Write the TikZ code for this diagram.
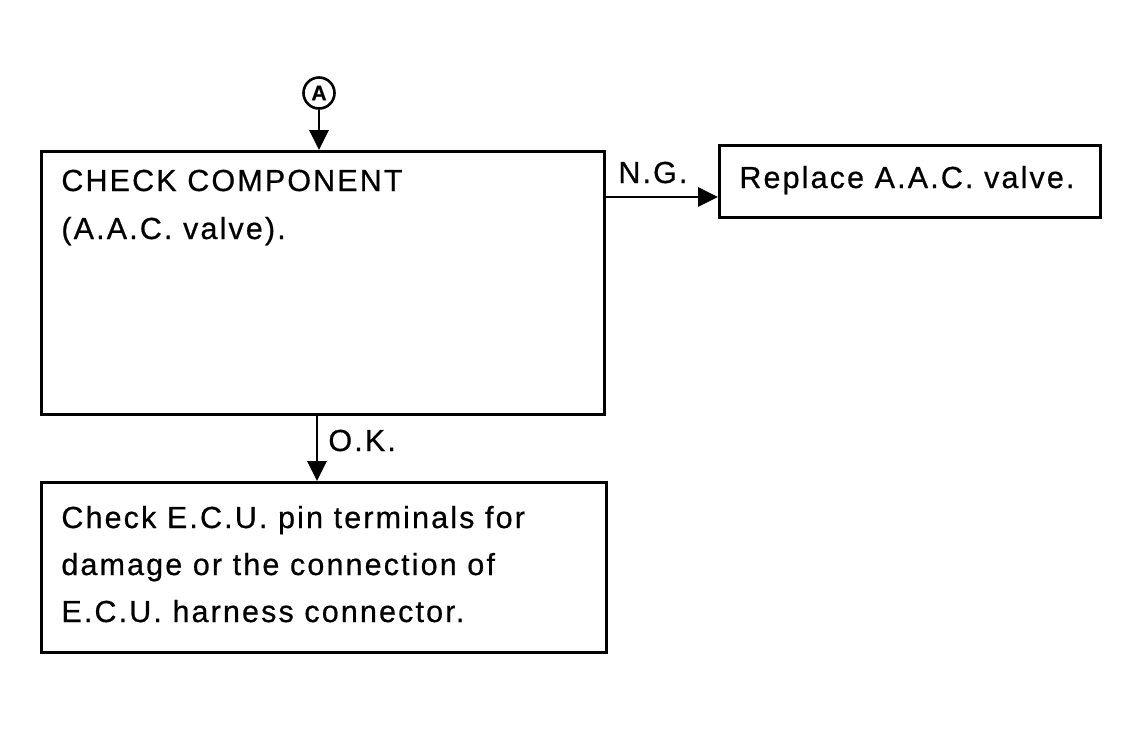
\documentclass[tikz,border=0pt]{standalone}
\usepackage{fontspec}
\setmainfont{Liberation Sans}[LetterSpace=7,FakeBold=0.6]
\usetikzlibrary{arrows.meta,calc}
\begin{document}
\begin{tikzpicture}[x=1pt,y=-1pt,
  line width=2.8pt,
  box/.style={draw,rectangle,inner sep=0pt,anchor=north west},
  txt/.style={anchor=base west,inner sep=0pt,font=\fontsize{30.5}{48}\selectfont},
  arr/.style={-{Triangle[length=20pt,width=19pt]}}]
\useasboundingbox (0,0) rectangle (1137,729);
% circle A
\node[draw,circle,minimum size=31pt,inner sep=0pt,line width=2.6pt,font=\bfseries\fontsize{21}{21}\selectfont] (A) at (319,93) {A};
% main box
\node[box,minimum width=563pt,minimum height=263pt] (main) at (40,150) {};
\node[txt] (t1) at (60,191) {CHECK COMPONENT};
\node[txt] (t2) at (60,239) {(A.A.C. valve).};
% replace box
\node[box,minimum width=381pt,minimum height=72pt] (rep) at (718,144) {};
\node[txt] (t3) at (738,188) {Replace A.A.C. valve.};
% bottom box
\node[box,minimum width=565pt,minimum height=170pt] (bot) at (40,481) {};
\node[txt] (t4) at (60,528) {Check E.C.U. pin terminals for};
\node[txt] (t5) at (60,575) {damage or the connection of};
\node[txt] (t6) at (60,622) {E.C.U. harness connector.};
% connectors
\draw[arr] (A.south) -- (A.south |- main.north);
\coordinate (ng) at ($(main.north east)+(0,47)$);
\draw[arr] (ng) -- (ng -| rep.west);
\node[txt] (ngl) at (617,183) {N.G.};
\coordinate (ok) at ($(main.south west)+(277,0)$);
\draw[arr] (ok) -- (ok |- bot.north);
\node[txt] (okl) at (327,451) {O.K.};
\end{tikzpicture}
\end{document}
